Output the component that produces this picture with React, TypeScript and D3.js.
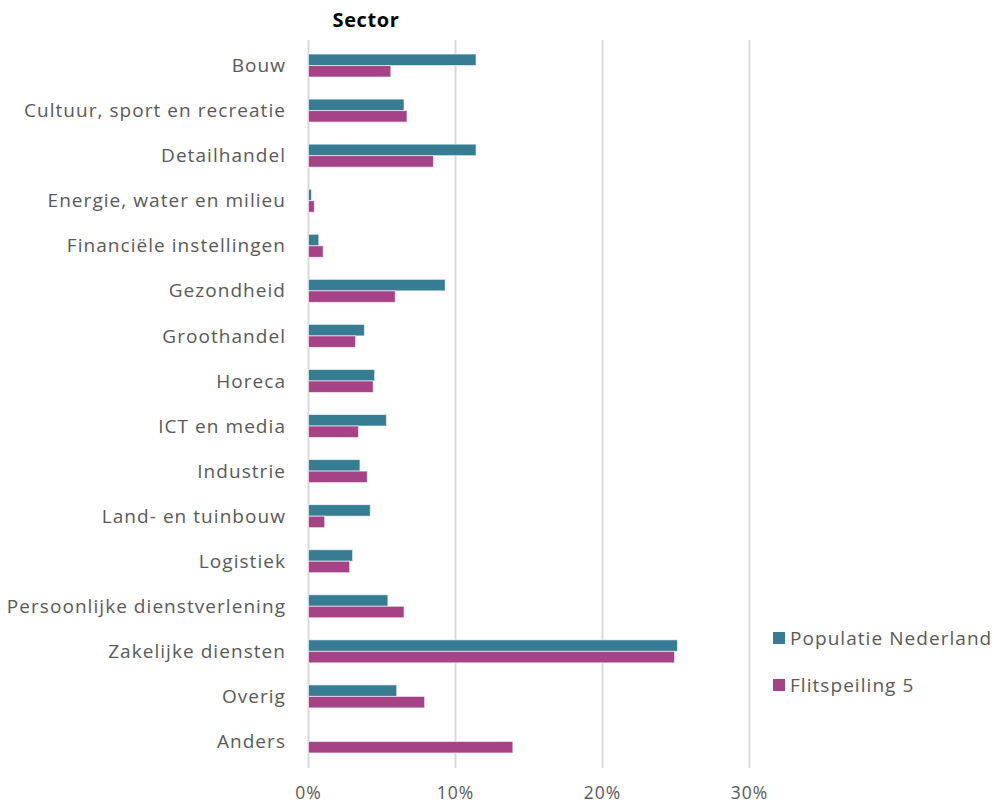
import { useRef, useEffect } from 'react';
import * as d3 from 'd3';

const CATEGORIES = [
  "Bouw",
  "Cultuur, sport en recreatie",
  "Detailhandel",
  "Energie, water en milieu",
  "Financiële instellingen",
  "Gezondheid",
  "Groothandel",
  "Horeca",
  "ICT en media",
  "Industrie",
  "Land- en tuinbouw",
  "Logistiek",
  "Persoonlijke dienstverlening",
  "Zakelijke diensten",
  "Overig",
  "Anders"
];

const POPULATIE = [11.4, 6.5, 11.4, 0.2, 0.7, 9.3, 3.8, 4.5, 5.3, 3.5, 4.2, 3.0, 5.4, 25.1, 6.0, 0];
const FLITSPEILING = [5.6, 6.7, 8.5, 0.4, 1.0, 5.9, 3.2, 4.4, 3.4, 4.0, 1.1, 2.8, 6.5, 24.9, 7.9, 13.9];

const SERIES = ["Populatie Nederland", "Flitspeiling 5"];
const COLORS = ["#367d93", "#a64386"];
const X_TICKS = [0, 10, 20, 30];

const FONT = "'Open Sans', sans-serif";
const TEXT_COLOR = "#595959";

function App() {
  const svgRef = useRef<SVGSVGElement>(null);

  useEffect(() => {
    const svg = d3.select(svgRef.current);
    svg.selectAll("*").remove();

    const W = 994, H = 805;
    const left = 308.5, right = 749.5, top = 43, bottom = 764;

    const x = d3.scaleLinear().domain([0, 30]).range([left, right]);
    const y = d3.scaleBand().domain(CATEGORIES).range([top, bottom]).paddingInner(0.49).paddingOuter(0.245);
    const sub = d3.scaleBand().domain(SERIES).range([0, y.bandwidth()]);

    // gridlines
    svg.append("g")
      .selectAll("line")
      .data(X_TICKS)
      .enter()
      .append("line")
      .attr("x1", d => x(d)).attr("x2", d => x(d))
      .attr("y1", 40).attr("y2", 768)
      .attr("stroke", "#d9d9d9")
      .attr("stroke-width", 2);

    // tick labels
    svg.append("g")
      .selectAll("text")
      .data(X_TICKS)
      .enter()
      .append("text")
      .attr("x", d => x(d))
      .attr("y", 799)
      .attr("text-anchor", "middle")
      .style("font-family", FONT)
      .style("font-size", "17.5px")
      .style("letter-spacing", "1px")
      .style("fill", TEXT_COLOR)
      .text(d => d + "%");

    // category labels
    svg.append("g")
      .selectAll("text")
      .data(CATEGORIES)
      .enter()
      .append("text")
      .attr("x", 286)
      .attr("y", d => (y(d) as number) + y.bandwidth() / 2)
      .attr("dy", "0.35em")
      .attr("text-anchor", "end")
      .style("font-family", FONT)
      .style("font-size", "19px")
      .style("letter-spacing", "1.05px")
      .style("fill", TEXT_COLOR)
      .text(d => d);

    // bars
    const rows = CATEGORIES.map((c, i) => ({ c, vals: [POPULATIE[i], FLITSPEILING[i]] }));
    const grp = svg.append("g")
      .selectAll("g")
      .data(rows)
      .enter()
      .append("g")
      .attr("transform", d => `translate(0,${y(d.c)})`);

    grp.selectAll("rect")
      .data(d => d.vals.map((v, j) => ({ v, s: SERIES[j], j })))
      .enter()
      .filter(d => d.v > 0)
      .append("rect")
      .attr("x", x(0))
      .attr("y", d => sub(d.s) as number)
      .attr("width", d => x(d.v) - x(0))
      .attr("height", sub.bandwidth())
      .attr("fill", d => COLORS[d.j])
      .attr("stroke", "#ffffff")
      .attr("stroke-opacity", 0.6)
      .attr("stroke-width", 1);

    // title
    svg.append("text")
      .attr("x", 366)
      .attr("y", 27)
      .attr("text-anchor", "middle")
      .style("font-family", FONT)
      .style("font-size", "20px")
      .style("letter-spacing", "0.6px")
      .style("font-weight", "bold")
      .style("fill", "#000")
      .text("Sector");

    // legend
    const legend = svg.append("g")
      .selectAll("g")
      .data(SERIES)
      .enter()
      .append("g")
      .attr("transform", (d, i) => `translate(773,${638 + i * 47})`);
    legend.append("rect")
      .attr("x", 0).attr("y", -6)
      .attr("width", 12).attr("height", 12)
      .attr("fill", (d, i) => COLORS[i]);
    legend.append("text")
      .attr("x", 17)
      .attr("dy", "0.35em")
      .style("font-family", FONT)
      .style("font-size", "19px")
      .style("letter-spacing", "1.05px")
      .style("fill", TEXT_COLOR)
      .text(d => d);

    svg.attr("width", W).attr("height", H);
  }, []);

  return <svg ref={svgRef} style={{ position: "absolute", left: 0, top: 0 }}></svg>;
}

export default App;
